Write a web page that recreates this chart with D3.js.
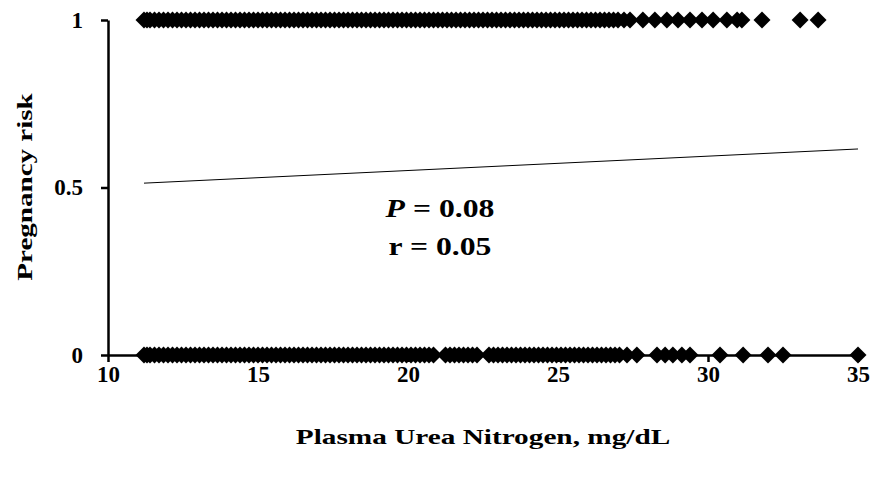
<!DOCTYPE html>
<meta charset="utf-8">
<style>
  body { margin: 0; background: white; }
  svg text { font-family: "Liberation Serif", "Times New Roman", Times, "DejaVu Serif", serif; font-weight: bold; fill: #000; }
</style>
<svg width="894" height="477"></svg>
<script src="https://cdn.jsdelivr.net/npm/d3@7"></script>
<script>
// pregnancy risk = 1 (pregnant), plasma urea nitrogen values, mg/dL
var pregnantPUN = [11.2, 11.3, 11.4, 11.55, 11.7, 11.85, 12.0, 12.15, 12.3, 12.45, 12.6, 12.75, 12.9, 13.05, 13.2,
  13.35, 13.5, 13.65, 13.8, 13.95, 14.1, 14.25, 14.4, 14.55, 14.7, 14.85, 15.0, 15.15, 15.3, 15.45, 15.6, 15.75,
  15.9, 16.05, 16.2, 16.35, 16.5, 16.65, 16.8, 16.95, 17.1, 17.25, 17.4, 17.55, 17.7, 17.85, 18.0, 18.15, 18.3,
  18.45, 18.6, 18.75, 18.9, 19.05, 19.2, 19.35, 19.5, 19.65, 19.8, 19.95, 20.1, 20.25, 20.4, 20.55, 20.7, 20.85,
  21.0, 21.15, 21.3, 21.45, 21.6, 21.75, 21.9, 22.05, 22.2, 22.35, 22.5, 22.65, 22.8, 22.95, 23.1, 23.25, 23.4,
  23.55, 23.7, 23.85, 24.0, 24.15, 24.3, 24.45, 24.6, 24.75, 24.9, 25.05, 25.2, 25.35, 25.5, 25.65, 25.8, 25.95,
  26.1, 26.25, 26.4, 26.55, 26.7, 26.85, 27.0, 27.2, 27.4, 27.83, 28.23, 28.63, 29.0, 29.4, 29.8, 30.17, 30.63,
  30.97, 31.13, 31.8, 33.07, 33.67];

// pregnancy risk = 0 (open)
var openPUN = [11.2, 11.3, 11.4, 11.55, 11.7, 11.85, 12.0, 12.15, 12.3, 12.45, 12.6, 12.75, 12.9, 13.05, 13.2,
  13.35, 13.5, 13.65, 13.8, 13.95, 14.1, 14.25, 14.4, 14.55, 14.7, 14.85, 15.0, 15.15, 15.3, 15.45, 15.6, 15.75,
  15.9, 16.05, 16.2, 16.35, 16.5, 16.65, 16.8, 16.95, 17.1, 17.25, 17.4, 17.55, 17.7, 17.85, 18.0, 18.15, 18.3,
  18.45, 18.6, 18.75, 18.9, 19.05, 19.2, 19.35, 19.5, 19.65, 19.8, 19.95, 20.1, 20.25, 20.4, 20.55, 20.7, 20.85,
  21.25, 21.4, 21.55, 21.7, 21.85, 22.0, 22.15, 22.3, 22.7, 22.85, 23.0, 23.15, 23.3, 23.45, 23.6, 23.75, 23.9,
  24.05, 24.2, 24.35, 24.5, 24.65, 24.8, 24.95, 25.1, 25.25, 25.4, 25.55, 25.7, 25.85, 26.0, 26.15, 26.3, 26.45,
  26.6, 26.75, 26.9, 27.05, 27.3, 27.63, 28.3, 28.57, 28.83, 29.13, 29.4, 30.4, 31.17, 32.0, 32.5, 35.0];

// fitted line
var fitX = [11.2, 35];
var fitY = [0.513, 0.615];

var xTicks = [10, 15, 20, 25, 30, 35];
var yTicks = [0, 0.5, 1];

var svg = d3.select("svg");
var x = d3.scaleLinear().domain([10, 35]).range([108, 858]);
var y = d3.scaleLinear().domain([0, 1]).range([355, 20]);

var points = pregnantPUN.map(function(v) { return {x: v, y: 1}; })
  .concat(openPUN.map(function(v) { return {x: v, y: 0}; }));

// widen glyphs a bit, the source picture is stretched sideways
function stretch(sel, k) {
  sel.each(function() {
    var w = this.getComputedTextLength();
    d3.select(this).attr("textLength", w * k).attr("lengthAdjust", "spacingAndGlyphs");
  });
}

// axes
var xAxis = svg.append("g")
  .attr("transform", "translate(0," + y(0) + ")")
  .call(d3.axisBottom(x).tickValues(xTicks).tickSize(7).tickPadding(4).tickSizeOuter(0).tickFormat(d3.format("d")));
var yAxis = svg.append("g")
  .attr("transform", "translate(" + x(10) + ",0)")
  .call(d3.axisLeft(y).tickValues(yTicks).tickSize(7).tickPadding(18).tickSizeOuter(0).tickFormat(function(d) { return d; }));

[xAxis, yAxis].forEach(function(a) {
  a.attr("font-family", null).attr("font-size", null);
  a.selectAll("path, line").attr("stroke", "#000").attr("stroke-width", 2.5);
  a.selectAll("text").attr("font-size", 23).attr("fill", "#000");
});

// fitted line
svg.append("path")
  .datum(d3.zip(fitX, fitY))
  .attr("fill", "none")
  .attr("stroke", "#000")
  .attr("stroke-width", 1)
  .attr("d", d3.line().x(function(d) { return x(d[0]); }).y(function(d) { return y(d[1]); }));

// diamonds
svg.append("g").selectAll("path")
  .data(points)
  .enter().append("path")
    .attr("d", d3.symbol().type(d3.symbolSquare).size(144))
    .attr("transform", function(d) { return "translate(" + x(d.x) + "," + y(d.y) + ") rotate(45)"; })
    .attr("fill", "#000");

// titles
var xt = svg.append("text")
  .attr("x", 483).attr("y", 444)
  .attr("text-anchor", "middle")
  .attr("font-size", 22)
  .text("Plasma Urea Nitrogen, mg/dL");

var yt = svg.append("text")
  .attr("transform", "translate(32,187) rotate(-90)")
  .attr("text-anchor", "middle")
  .attr("font-size", 22)
  .text("Pregnancy risk");

stretch(xt, 1.33);
stretch(yt, 1.32);

// stats
var stat1 = svg.append("text").attr("x", 440).attr("y", 217).attr("text-anchor", "middle").attr("font-size", 26);
stat1.append("tspan").attr("font-style", "italic").text("P");
stat1.append("tspan").text(" = 0.08");
var stat2 = svg.append("text").attr("x", 440).attr("y", 255).attr("text-anchor", "middle").attr("font-size", 26).text("r = 0.05");
stretch(stat1, 1.22);
stretch(stat2, 1.22);
</script>
